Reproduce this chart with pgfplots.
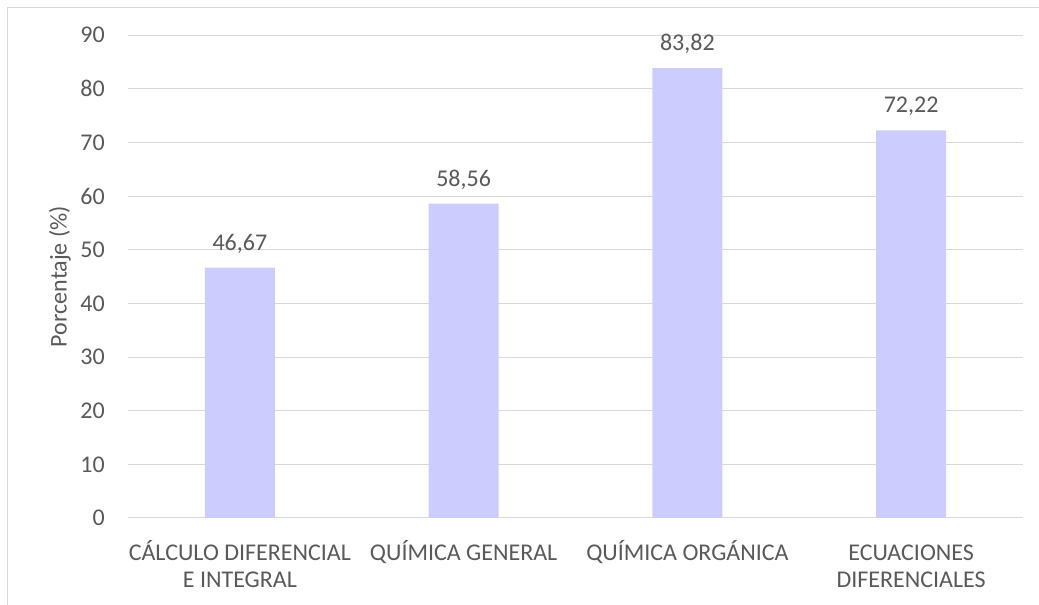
\documentclass[border=0pt]{standalone}
\usepackage{pgfplots}
\pgfplotsset{compat=1.18}
\usepackage{fontspec}
\setmainfont{Carlito}
\definecolor{txt}{HTML}{595959}
\definecolor{gridc}{HTML}{D9D9D9}
\definecolor{barc}{HTML}{CCCCFF}
\newcommand\f{\fontsize{24}{27}\selectfont}
\begin{document}
\begin{tikzpicture}[x=1pt,y=1pt]
\path[use as bounding box] (0,0) rectangle (1039,605);
\draw[gridc, line width=1.2pt] (7.5,0) -- (7.5,597.5) -- (1039,597.5);
\begin{axis}[
  at={(128pt,87pt)}, anchor=south west,
  scale only axis, width=895pt, height=483pt,
  ybar, bar width=70pt,
  xmin=-0.5, xmax=3.5, ymin=0, ymax=90,
  ytick={0,10,...,90},
  xtick={0,1,2,3},
  xticklabels={{CÁLCULO DIFERENCIAL\\E INTEGRAL},{\vphantom{Á}QUÍMICA GENERAL},{\vphantom{Á}QUÍMICA ORGÁNICA},{\vphantom{Á}ECUACIONES\\DIFERENCIALES}},
  axis line style={draw=none},
  major tick length=0pt,
  ymajorgrids, grid style={gridc, line width=1pt},
  /pgf/number format/assume math mode=true,
  yticklabel style={font=\f, text=txt, inner sep=0pt, xshift=-23pt},
  xticklabel style={font=\f, text=txt, inner sep=0pt, align=center, anchor=north, yshift=-22pt},
  ylabel={Porcentaje (\%)},
  ylabel style={font=\f, text=txt, at={(axis description cs:-0.076,0.5)}, anchor=center},
  nodes near coords,
  nodes near coords style={font=\f, text=txt, anchor=center, yshift=24pt, /pgf/number format/.cd, use comma, fixed, fixed zerofill, precision=2, assume math mode=true},
  clip=false,
]
\addplot[fill=barc, draw=none] coordinates {(0,46.67) (1,58.56) (2,83.82) (3,72.22)};
\end{axis}
\end{tikzpicture}
\end{document}
